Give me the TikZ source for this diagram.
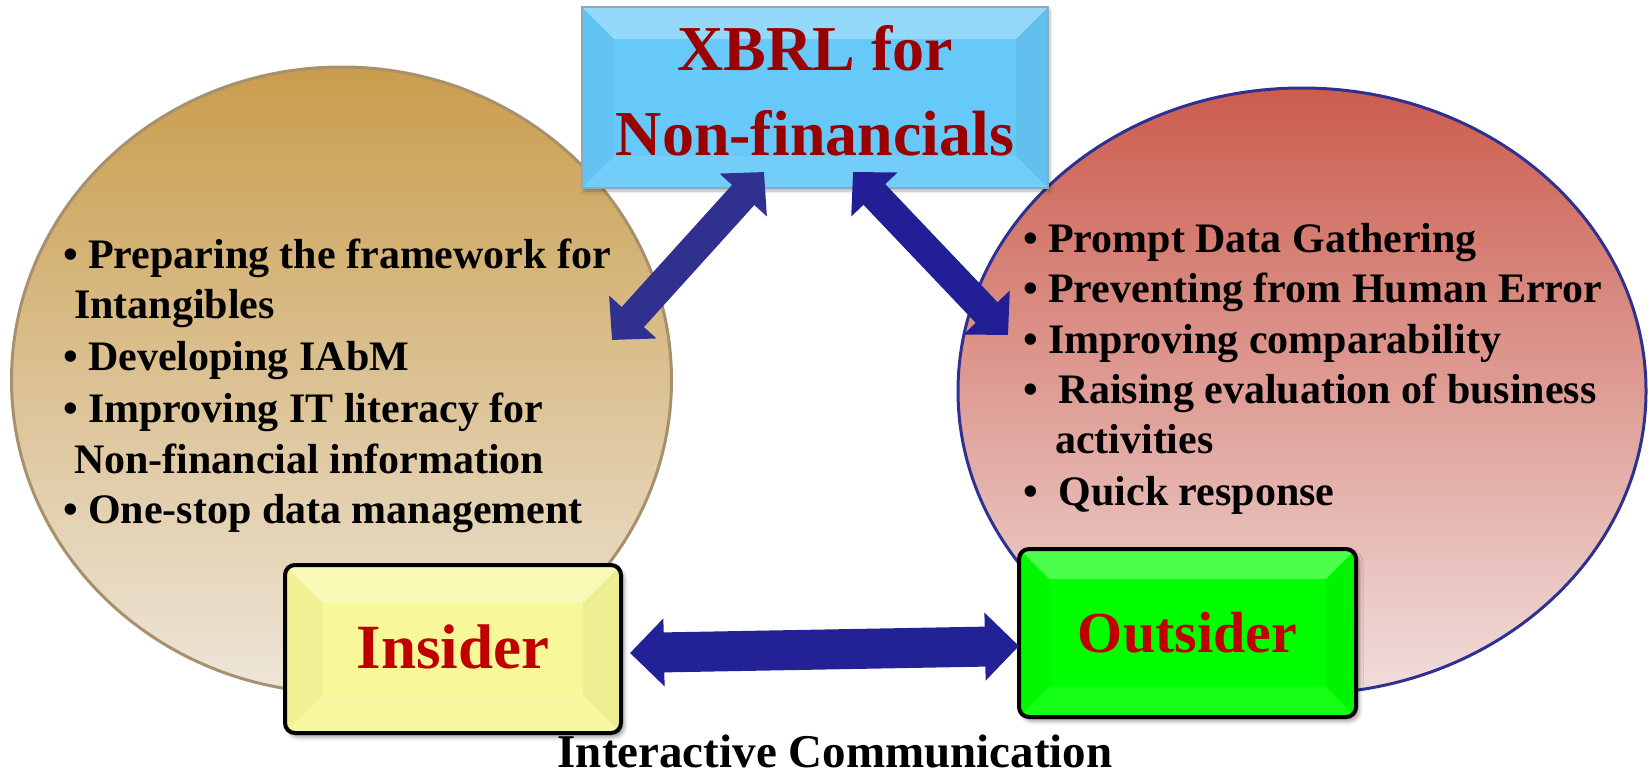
\documentclass[tikz,border=0pt]{standalone}
\usepackage{fontspec}
\setmainfont{Liberation Serif}
\usetikzlibrary{shapes.geometric,arrows.meta,shadows.blur}
\definecolor{titlered}{HTML}{990000}
\definecolor{boxred}{HTML}{C00000}
\definecolor{lefttop}{HTML}{C99D4C}
\definecolor{leftbot}{HTML}{EEE6DA}
\definecolor{leftedge}{HTML}{A8906C}
\definecolor{righttop}{HTML}{CC5C4E}
\definecolor{rightbot}{HTML}{F1DEDC}
\definecolor{rightedge}{HTML}{2E3192}
\definecolor{xblue}{HTML}{66C9F9}
\definecolor{xedge}{HTML}{8FA9BC}
\definecolor{insfill}{HTML}{F8F899}
\definecolor{outfill}{HTML}{00FF00}
\definecolor{arrowA}{HTML}{30308E}
\definecolor{arrowB}{HTML}{211E96}
\definecolor{arrowC}{HTML}{222296}
\newcommand\bevelit[3]{%
 \begin{scope}
 \clip[rounded corners=#3] (#1.north west) rectangle (#1.south east);
 \fill[white,opacity=.30] (#1.north west) -- (#1.north east) -- ([shift={(-#2,#2)}]#1.north east) -- ([shift={(#2,#2)}]#1.north west) -- cycle;
 \fill[black,opacity=.03] (#1.north west) -- ([shift={(#2,#2)}]#1.north west) -- ([shift={(#2,-#2)}]#1.south west) -- (#1.south west) -- cycle;
 \fill[black,opacity=.045] (#1.north east) -- ([shift={(-#2,#2)}]#1.north east) -- ([shift={(-#2,-#2)}]#1.south east) -- (#1.south east) -- cycle;
 \fill[white,opacity=.08] (#1.south west) -- ([shift={(#2,-#2)}]#1.south west) -- ([shift={(-#2,-#2)}]#1.south east) -- (#1.south east) -- cycle;
 \end{scope}}
\begin{document}
\begin{tikzpicture}[x=1pt,y=-1pt,
  every node/.style={inner sep=0pt,outer sep=0pt},
  blob/.style={ellipse, line width=3pt},
  tbox/.style={rectangle, fill=xblue, blur shadow={shadow xshift=2pt, shadow yshift=-3pt, shadow blur radius=3pt, shadow opacity=30}},
  sbox/.style={rectangle, rounded corners=10pt, blur shadow={shadow xshift=3pt, shadow yshift=-4pt, shadow blur radius=4pt, shadow opacity=40}},
  sedge/.style={draw=black, line width=4pt, rounded corners=10pt},
  listtxt/.style={anchor=base west, font=\fontsize{42}{50}\selectfont\bfseries},
  titletxt/.style={anchor=base, text=titlered, font=\fontsize{64}{70}\selectfont\bfseries},
  boxtxt/.style={anchor=base, text=boxred},
  bigarrow/.style={line width=30pt, {Triangle[width=62pt,length=31pt]}-{Triangle[width=62pt,length=31pt]}},
  widearrow/.style={line width=40pt, {Triangle[width=66pt,length=34pt]}-{Triangle[width=66pt,length=34pt]}}
]
\useasboundingbox (0,0) rectangle (1648,774);
% circles
\node[blob, draw=leftedge, top color=lefttop, bottom color=leftbot, minimum width=660pt, minimum height=626pt] (lc) at (341.5,380) {};
\node[blob, draw=rightedge, top color=righttop, bottom color=rightbot, minimum width=688pt, minimum height=606pt] (rc) at (1302,391) {};
% top box
\node[tbox, minimum width=466pt, minimum height=181pt] (tb) at (815,97.5) {};
\bevelit{tb}{32}{0pt}
\draw[draw=xedge, line width=1.5pt] (tb.north west) rectangle (tb.south east);
% insider / outsider boxes
\node[sbox, fill=insfill, minimum width=336pt, minimum height=168pt] (ins) at (453,649) {};
\bevelit{ins}{38}{10pt}
\draw[sedge] (ins.north west) rectangle (ins.south east);
\node[sbox, fill=outfill, minimum width=337pt, minimum height=168pt] (out) at (1187.5,633) {};
\bevelit{out}{30}{10pt}
\draw[sedge] (out.north west) rectangle (out.south east);
% arrows
\coordinate (a1s) at (612,340);
\coordinate (a1e) at (764,172);
\coordinate (a2s) at (853,172);
\coordinate (a2e) at (1008,335);
\coordinate (a3s) at (630,653);
\coordinate (a3e) at (1019,646);
\draw[bigarrow, draw=arrowA, fill=arrowA] (a1s) -- (a1e);
\draw[bigarrow, draw=arrowB, fill=arrowB] (a2s) -- (a2e);
\draw[widearrow, draw=arrowC, fill=arrowC] (a3s) -- (a3e);
% texts
\node[titletxt] (t1) at (815,70) {XBRL for};
\node[titletxt] (t2) at (815,155) {Non-financials};
\node[boxtxt, font=\fontsize{63}{70}\selectfont\bfseries] (inst) at (453,668) {Insider};
\node[boxtxt, font=\fontsize{58}{64}\selectfont\bfseries] (outt) at (1187.5,652) {Outsider};
\node[listtxt] (l1) at (63,268) {• Preparing the framework for};
\node[listtxt] (l2) at (74,318) {Intangibles};
\node[listtxt] (l3) at (63,370) {• Developing IAbM};
\node[listtxt] (l4) at (63,422) {• Improving IT literacy for};
\node[listtxt] (l5) at (74,473) {Non-financial information};
\node[listtxt] (l6) at (63,523) {• One-stop data management};
\node[listtxt] (r1) at (1023,252) {• Prompt Data Gathering};
\node[listtxt] (r2) at (1023,302) {• Preventing from Human Error};
\node[listtxt] (r3) at (1023,353) {• Improving comparability};
\node[listtxt] (r4) at (1023,403) {•\ \ Raising evaluation of business};
\node[listtxt] (r5) at (1055,453) {activities};
\node[listtxt] (r6) at (1023,505) {•\ \ Quick response};
\node[anchor=base, font=\fontsize{47}{50}\selectfont\bfseries] (cap) at (835,767) {Interactive Communication};
\end{tikzpicture}
\end{document}
